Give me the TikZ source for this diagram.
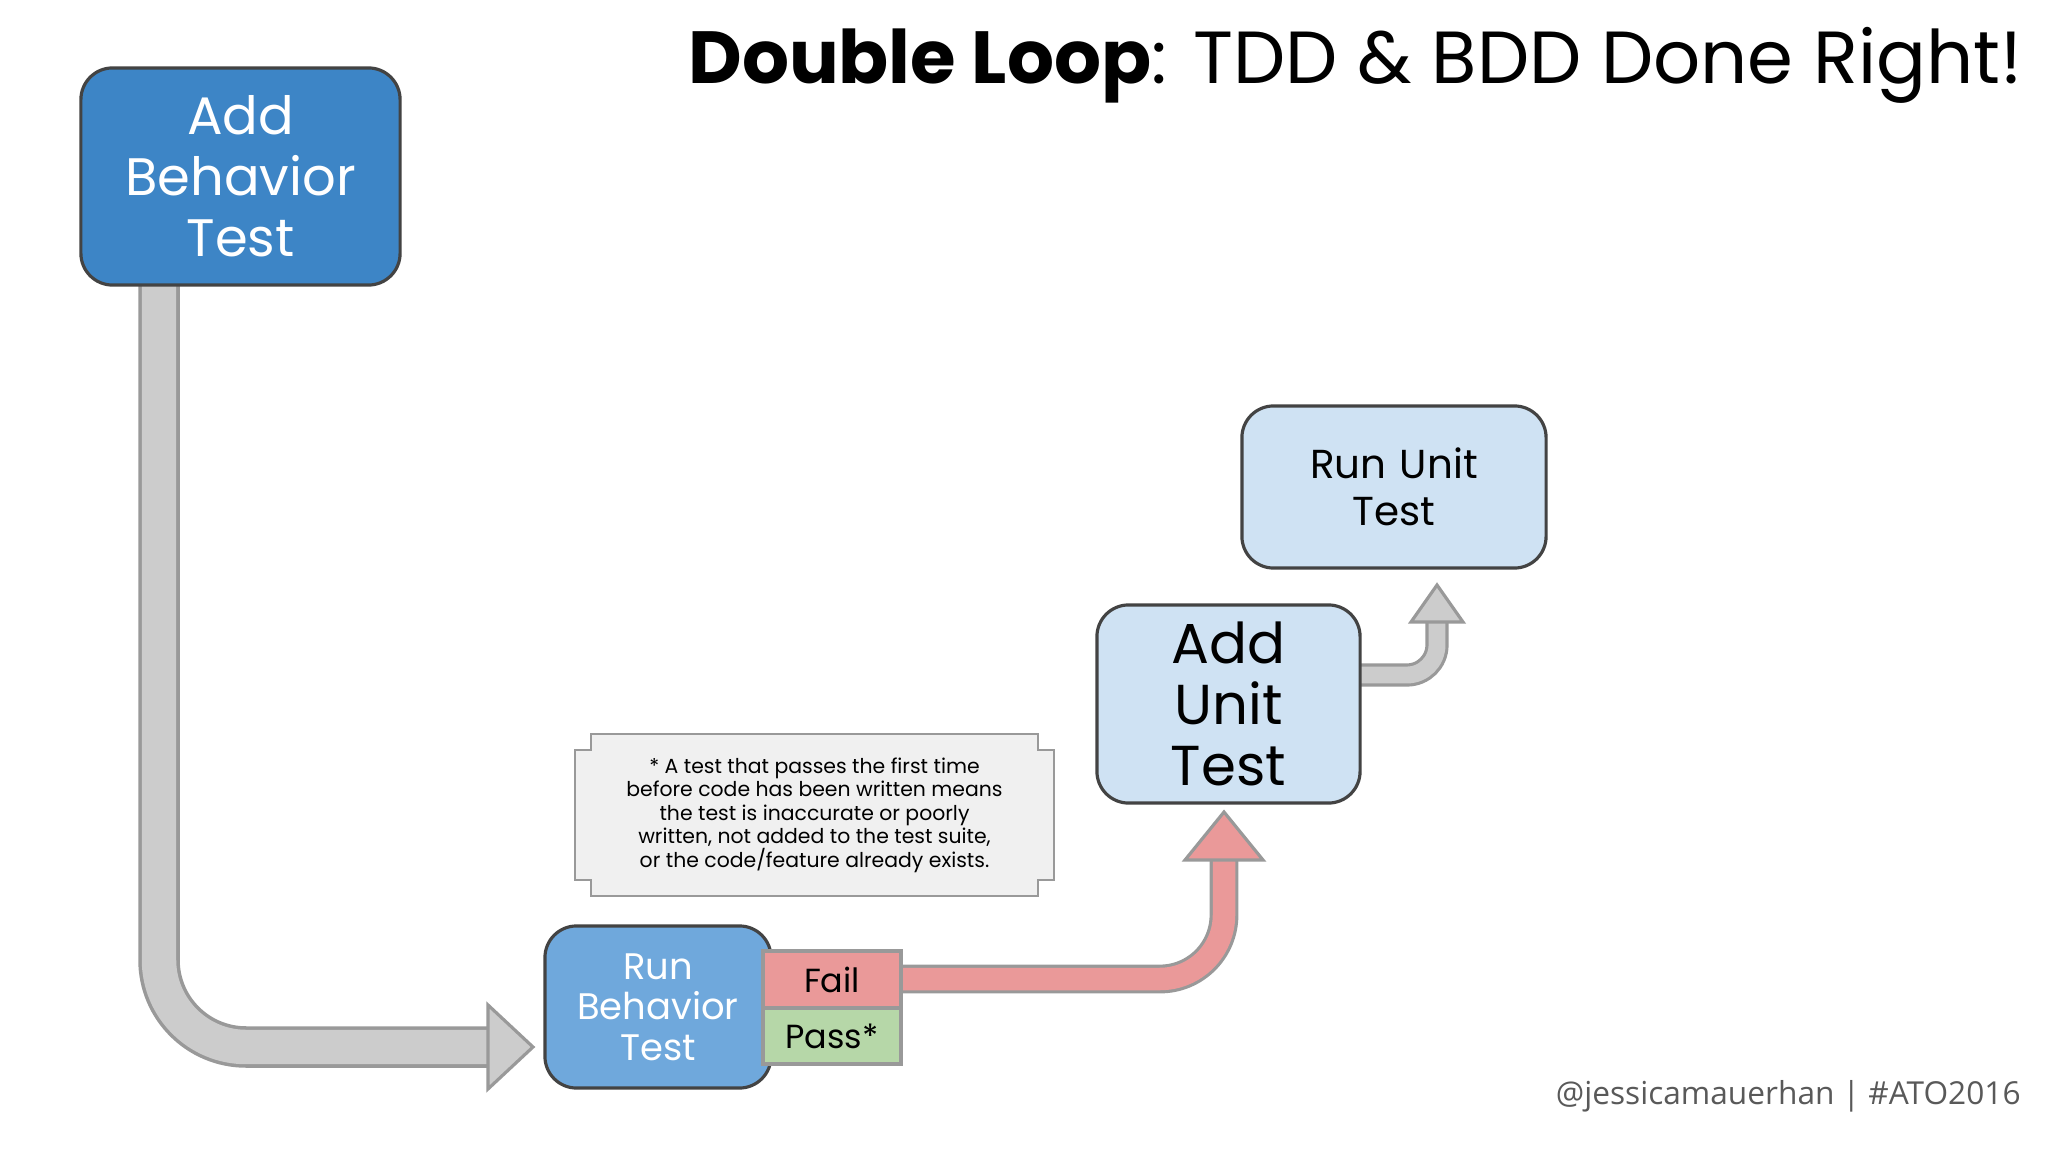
\documentclass[tikz,border=0pt]{standalone}
\usepackage{fontspec}
\setmainfont{Poppins}
\newfontfamily\footfont{Open Sans}
\definecolor{bdark}{HTML}{3D85C6}
\definecolor{bmid}{HTML}{6FA8DC}
\definecolor{blight}{HTML}{CFE2F3}
\definecolor{rfill}{HTML}{EA9999}
\definecolor{gfill}{HTML}{B6D7A8}
\definecolor{afill}{HTML}{CCCCCC}
\definecolor{aline}{HTML}{999999}
\definecolor{edge}{HTML}{434343}
\begin{document}
\begin{tikzpicture}[x=0.01cm,y=-0.01cm,
  box/.style={draw=edge,line width=0.9pt,rounded corners=9pt,align=center,inner sep=0pt},
  tag/.style={draw=aline,line width=0.9pt,align=center,inner sep=0pt,font=\fontsize{9.5}{12}\selectfont},
  head/.style={draw=aline,line width=0.9pt,line join=miter}]
\useasboundingbox[fill=white] (0,0) rectangle (2048,1152);
% title
\node[anchor=east] (title) at (2035,65) {\fontsize{21}{25}\selectfont\textbf{Double Loop}: TDD \& BDD Done Right!};
% gray big arrow
\draw[aline,line width=11.8pt,rounded corners=0.87cm] (159,285) |- (492,1047);
\draw[afill,line width=9.8pt,rounded corners=0.87cm] (159,283) |- (494,1047);
\draw[head,fill=afill] (488,1023)--(488,1005)--(533,1047)--(488,1089)--(488,1071)--cycle;
% red arrow
\draw[aline,line width=8.2pt,rounded corners=0.64cm] (901,979) -| (1224,856);
\draw[rfill,line width=6.4pt,rounded corners=0.64cm] (899,979) -| (1224,854);
\draw[head,fill=rfill] (1210,860)--(1185,860)--(1224,812)--(1263,860)--(1238,860)--cycle;
% small gray arrow
\draw[aline,line width=6.6pt,rounded corners=0.3cm] (1360,675) -| (1437,618);
\draw[afill,line width=4.8pt,rounded corners=0.3cm] (1358,675) -| (1437,616);
\draw[head,fill=afill] (1426,622)--(1411,622)--(1437,585)--(1463,622)--(1448,622)--cycle;
% boxes
\node[box,fill=bdark,text=white,minimum width=3.19cm,minimum height=2.17cm,font=\fontsize{15}{17.4}\selectfont,text width=3cm] (abt) at (240.5,176.5) {Add\\Behavior\\Test};
\node[box,fill=bmid,text=white,minimum width=2.26cm,minimum height=1.62cm,font=\fontsize{10.5}{11.5}\selectfont,text width=2.2cm] (rbt) at (658,1007) {Run\\Behavior\\Test};
\node[tag,fill=rfill,minimum height=0.57cm,minimum width=1.38cm] (fail) at (832,979.5) {Fail};
\node[tag,fill=gfill,minimum height=0.56cm,minimum width=1.38cm] (pass) at (832,1036) {Pass*};
\node[box,fill=blight,minimum width=2.63cm,minimum height=1.98cm,font=\fontsize{16}{17.4}\selectfont,text width=2.5cm] (aut) at (1228.5,704) {Add\\Unit\\Test};
\node[box,fill=blight,minimum width=3.04cm,minimum height=1.62cm,font=\fontsize{11.5}{13.5}\selectfont,text width=3cm] (rut) at (1394,487) {Run Unit\\Test};
% note
\draw[draw=aline,fill=gray!12,line width=0.6pt] (591,734)--(1038,734)--(1038,750)--(1054,750)--(1054,880)--(1038,880)--(1038,896)--(591,896)--(591,880)--(575,880)--(575,750)--(591,750)--cycle;
\node[align=center,font=\fontsize{5.8}{6.7}\selectfont] (note) at (814.5,815) {* A test that passes the first time\\before code has been written means\\the test is inaccurate or poorly\\written, not added to the test suite,\\or the code/feature already exists.};
% footer
\node[anchor=east,text=gray!70!black,font=\footfont\fontsize{9}{12}\selectfont] (foot) at (2033,1096) {@jessicamauerhan | \#ATO2016};
\end{tikzpicture}
\end{document}
